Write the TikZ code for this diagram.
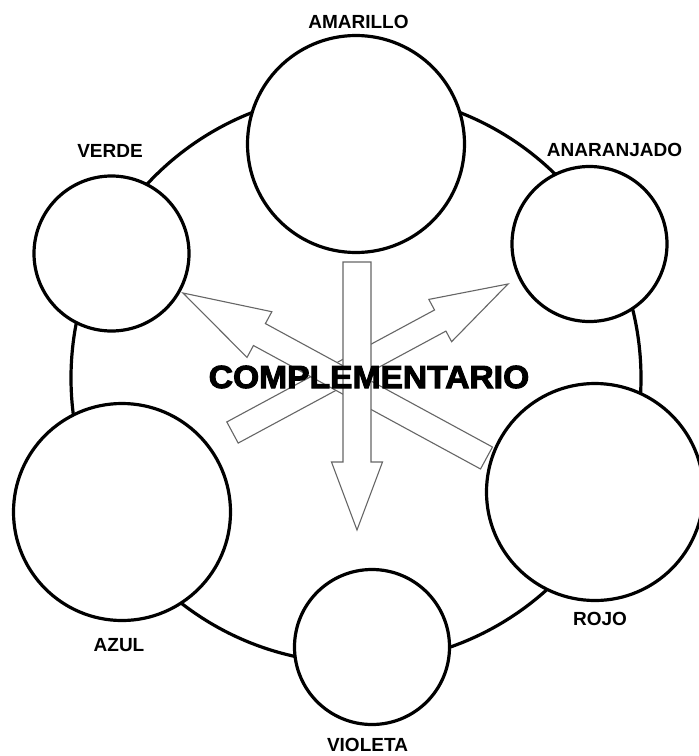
\documentclass[tikz,border=0pt]{standalone}
\usepackage{fontspec}
\setmainfont{Liberation Sans}
\newfontfamily\heavyfont[FakeBold=3]{Liberation Sans Bold}
\usetikzlibrary{calc}
\newcommand\hollowarrow[5]{%
  \coordinate (#2-base) at ($(#2)!#3!(#1)$);
  \draw[hollow] ($(#1)!#4!90:(#2)$) -- ($(#2-base)!#4!90:(#2)$)
    -- ($(#2-base)!#5!90:(#2)$) -- (#2)
    -- ($(#2-base)!#5!-90:(#2)$) -- ($(#2-base)!#4!-90:(#2)$)
    -- ($(#1)!#4!-90:(#2)$) -- cycle;
}
\begin{document}
\begin{tikzpicture}[x=1pt,y=-1pt,
  ringline/.style={circle, draw=black, line width=3.2pt, inner sep=0pt, minimum size=570pt},
  colorcirc/.style={circle, draw=black, fill=white, line width=3.2pt, inner sep=0pt},
  bigc/.style={colorcirc, minimum size=217pt},
  smallc/.style={colorcirc, minimum size=155pt},
  lbl/.style={font=\bfseries\fontsize{19}{19}\selectfont, inner sep=0pt},
  hollow/.style={draw=black!60, fill=white, line width=1.1pt, line join=miter}]
\useasboundingbox (0,0) rectangle (699,756);
\fill[white] (0,0) rectangle (699,756);
% outer ring
\node[ringline] (ring) at (356,378) {};
% arrow end points
\coordinate (a1tail) at (232.5,432.5);
\coordinate (a1tip) at (508,284);
\coordinate (a2tail) at (486.5,458);
\coordinate (a2tip) at (183,293);
\coordinate (a3tail) at (357,262);
\coordinate (a3tip) at (357,530);
\hollowarrow{a1tail}{a1tip}{77pt}{12pt}{24pt}
\hollowarrow{a2tail}{a2tip}{87pt}{12.5pt}{26pt}
\hollowarrow{a3tail}{a3tip}{68pt}{14pt}{25.5pt}
% colour circles
\node[bigc] (amarillo) at (356,144) {};
\node[smallc] (anaranjado) at (589.5,244) {};
\node[bigc] (rojo) at (595,492) {};
\node[smallc] (violeta) at (372,647) {};
\node[bigc] (azul) at (122,512) {};
\node[smallc] (verde) at (111.5,253.5) {};
% labels
\node[lbl] (tamarillo) at (358.5,21.5) {AMARILLO};
\node[lbl] (tanaranjado) at (614.5,150) {ANARANJADO};
\node[lbl] (trojo) at (600,618.5) {ROJO};
\node[lbl] (tvioleta) at (367.5,745) {VIOLETA};
\node[lbl] (tazul) at (119,645.5) {AZUL};
\node[lbl] (tverde) at (110,150.5) {VERDE};
\node[inner sep=0pt, font=\heavyfont\fontsize{32}{32}\selectfont, xscale=1.05] (compl) at (369,377) {COMPLEMENTARIO};
\end{tikzpicture}
\end{document}
